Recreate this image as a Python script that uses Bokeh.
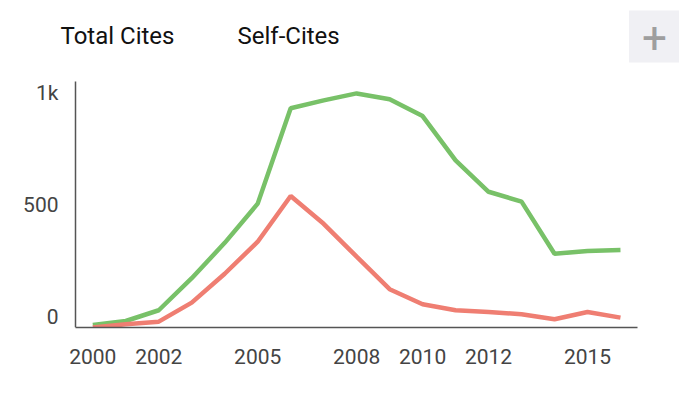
from bokeh.plotting import figure
from bokeh.models import ColumnDataSource, Range1d, FixedTicker, Label, LinearAxis
from bokeh.embed import file_html
from bokeh.resources import INLINE

years = list(range(2000, 2017))
total_cites = [11, 29, 77, 220, 378, 553, 979, 1014, 1045, 1019, 944, 746, 606, 562, 329, 342, 346]
self_cites = [0, 14, 26, 111, 240, 383, 587, 463, 316, 171, 104, 77, 69, 59, 37, 69, 44]
x_ticks = [2000, 2002, 2005, 2008, 2010, 2012, 2015]
y_ticks = [0, 500, 1000]
y_tick_labels = {0: "0", 500: "500", 1000: "1k"}
series_names = ["Total Cites", "Self-Cites"]

GREEN = "#78c168"
RED = "#ef7e72"
AXIS = "#555555"
FONT = "Roboto"

# layout (page pixels)
W, H = 679, 415
FL, FB = 58, 327          # frame left / bottom (frame spans to top and right edge)
AX_L, AX_R, AX_T = 75, 637, 81   # visible extent of the axis lines
XS = 32.98                # px per year
X0 = 2000 - (92.3 - FL) / XS
X1 = X0 + (W - FL) / XS
YS = 0.224                # px per cite
Y1 = FB / YS
LABEL_SHIFT = 10.5 / YS   # y labels sit a little above their ticks


def sx(px):
    return X0 + (px - FL) / XS


def sy(py):
    return (FB - py) / YS


src = ColumnDataSource(dict(year=years, total=total_cites, self_=self_cites))

p = figure(width=W, height=H, output_backend="svg", toolbar_location=None,
           x_range=Range1d(X0, X1), y_range=Range1d(0, Y1),
           min_border_left=FL, min_border_right=0, min_border_top=0, min_border_bottom=H - FB)
p.outline_line_color = None
p.xgrid.visible = False
p.ygrid.visible = False
p.background_fill_color = "white"
p.border_fill_color = "white"
p.yaxis.visible = False

# y axis line
p.segment(x0=[sx(AX_L)], y0=[0], x1=[sx(AX_L)], y1=[sy(AX_T)], line_color=AXIS, line_width=1.5)

p.line("year", "total", source=src, line_color=GREEN, line_width=4.5)
p.line("year", "self_", source=src, line_color=RED, line_width=4.5)

p.extra_y_ranges = {"lab": Range1d(-LABEL_SHIFT, Y1 - LABEL_SHIFT)}
yax = LinearAxis(y_range_name="lab", ticker=FixedTicker(ticks=y_ticks),
                 major_label_overrides=y_tick_labels)
p.add_layout(yax, "left")

xax = p.xaxis[0]
xax.ticker = FixedTicker(ticks=x_ticks)
xax.bounds = (sx(AX_L), sx(AX_R))

for ax in (xax, yax):
    ax.axis_line_color = AXIS
    ax.axis_line_width = 1.5
    ax.major_tick_line_color = None
    ax.minor_tick_line_color = None
    ax.major_tick_out = 0
    ax.major_tick_in = 0
    ax.major_label_text_font = FONT
    ax.major_label_text_font_size = "21px"
    ax.major_label_text_color = "#444444"
yax.axis_line_color = None
xax.major_label_standoff = 21
yax.major_label_standoff = 0

# legend texts (no swatches)
p.add_layout(Label(x=sx(60), y=sy(35), text=series_names[0],
                   text_font=FONT, text_font_size="24px", text_color="#111111",
                   text_baseline="middle"))
p.add_layout(Label(x=sx(237), y=sy(35), text=series_names[1],
                   text_font=FONT, text_font_size="24px", text_color="#111111",
                   text_baseline="middle"))

# "+" button
p.add_layout(Label(x=sx(654), y=sy(36), text="+",
                   text_font=FONT, text_font_size="44px", text_color="#9e9e9e",
                   text_align="center", text_baseline="middle",
                   background_fill_color="#f0f0f4",
                   padding=(13, 10)))

open("out.html", "w").write(file_html(p, INLINE))
